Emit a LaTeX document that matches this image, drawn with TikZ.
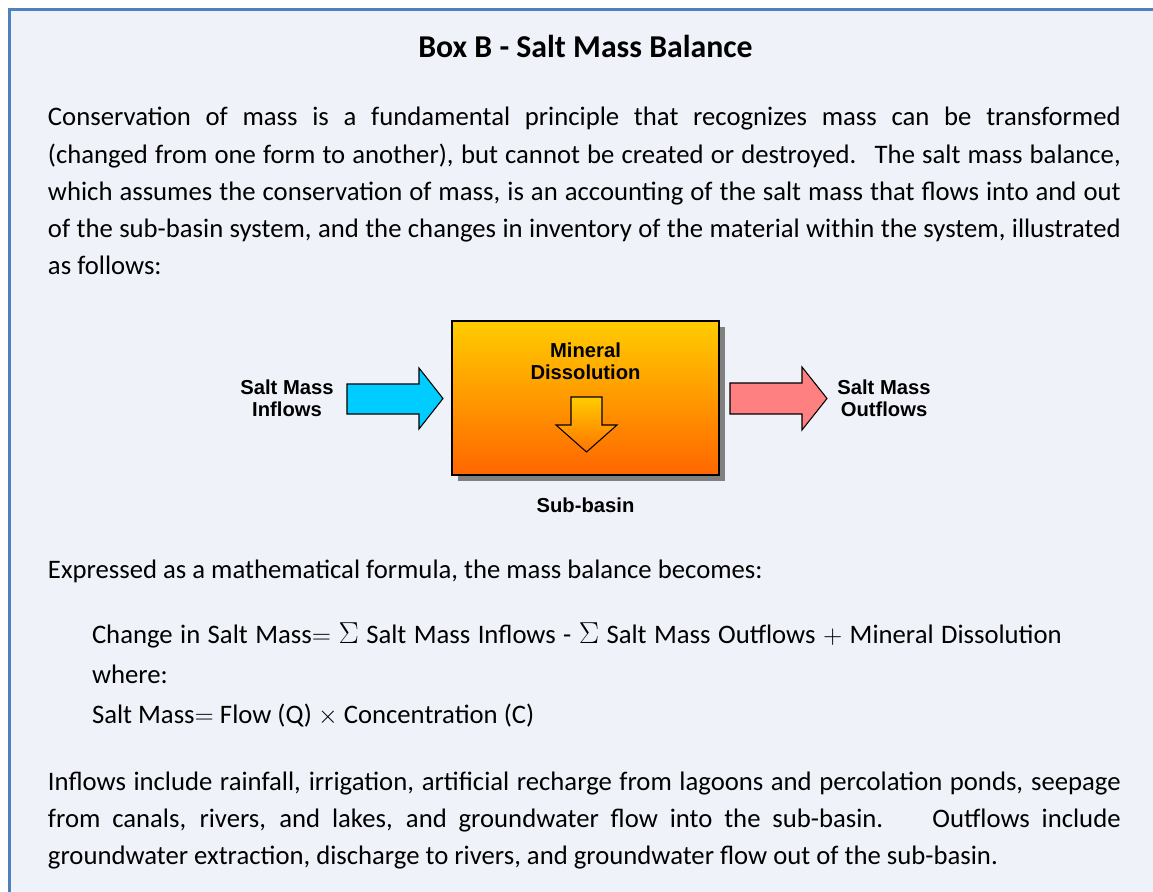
\documentclass[tikz,border=0pt]{standalone}
\usepackage{fontspec}
\setmainfont{Carlito}
\newfontfamily\arialfont{Liberation Sans}
\usetikzlibrary{shadows,positioning}
\definecolor{boxblue}{HTML}{4F81BD}
\definecolor{paper}{HTML}{EFF3F9}
\definecolor{inblue}{HTML}{00CCFF}
\definecolor{outred}{HTML}{FF8080}
\definecolor{basintop}{HTML}{FFCC00}
\definecolor{basinbot}{HTML}{FF6600}
\newlength{\linew}\setlength{\linew}{21.46cm}
\newcommand{\bigsig}{{\fontsize{19pt}{19pt}\selectfont$\Sigma$}}

\begin{document}
\begin{tikzpicture}[x=0.02cm,y=0.02cm,every node/.append style={inner sep=0pt,outer sep=0pt}]
    \tikzstyle{body}=[anchor=base west, font=\fontsize{15.2pt}{18pt}\selectfont]
    \tikzstyle{lbl}=[align=center, font=\arialfont\bfseries\fontsize{11.5pt}{12.3pt}\selectfont]
    \tikzstyle{blockarrow}=[draw=black, line width=0.6pt, line join=miter]
    \tikzstyle{basin}=[draw=black, line width=0.8pt, minimum width=5.34cm, minimum height=3.08cm,
        top color=basintop, bottom color=basinbot,
        drop shadow={shadow xshift=0.12cm, shadow yshift=-0.12cm, fill=black!50, opacity=1}]
    \fill[white] (0,0) rectangle (1153,-892);
    \useasboundingbox (0,0) rectangle (1153,-892);
    \draw[draw=boxblue, fill=paper, line width=1.4pt] (9.5,-9.5) rectangle (1175,-915);

    \node[anchor=base, font=\bfseries\fontsize{18.1pt}{22pt}\selectfont] (title) at (585.5,-58) {Box B - Salt Mass Balance};

    % first paragraph, justified lines
    \foreach \n/\y/\txt in {1/126/{Conservation of mass is a fundamental principle that recognizes mass can be transformed},
                            2/163/{(changed from one form to another), but cannot be created or destroyed.~ The salt mass balance,},
                            3/200/{which assumes the conservation of mass, is an accounting of the salt mass that flows into and out},
                            4/237/{of the sub-basin system, and the changes in inventory of the material within the system, illustrated}} {
        \node[body] (p\n) at (48,-\y) {\makebox[\linew][s]{\txt}};
    }
    \node[body] (p5) at (48,-274) {as follows:};

    % diagram
    \node[basin] (basin) at (585.5,-398) {};
    \node[lbl, below=0.44cm of basin.north] (mineral) {Mineral\\Dissolution};
    \node[lbl, below=0.46cm of basin] (sub) {Sub-basin};
    \node[lbl] (inlbl) at (287,-398) {Salt Mass\\Inflows};
    \node[lbl] (outlbl) at (884,-398) {Salt Mass\\Outflows};
    \draw[blockarrow, fill=inblue] (347,-384) -- (419,-384) -- (419,-368) -- (443,-398.5) -- (419,-429) -- (419,-414) -- (347,-414) -- cycle;
    \draw[blockarrow, fill=outred] (730,-383) -- (802,-383) -- (802,-367) -- (827,-398.5) -- (802,-430) -- (802,-414) -- (730,-414) -- cycle;
    \draw[blockarrow, top color=basintop, bottom color=orange!90!red] (571,-397) -- (602,-397) -- (602,-425) -- (617,-425) -- (586.5,-452) -- (556,-425) -- (571,-425) -- cycle;

    \node[body] (expr) at (48,-578) {Expressed as a mathematical formula, the mass balance becomes:};

    % formula
    \node[body] (eq1) at (92,-643) {\makebox[19.4cm][s]{Change in Salt Mass$=$ \bigsig{} Salt Mass Inflows - \bigsig{} Salt Mass Outflows $+$ Mineral Dissolution}};
    \node[body] (eq2) at (92,-683) {where:};
    \node[body] (eq3) at (92,-723) {Salt Mass$=$ Flow (Q) $\times$ Concentration (C)};

    % last paragraph
    \foreach \n/\y/\txt in {1/790/{Inflows include rainfall, irrigation, artificial recharge from lagoons and percolation ponds, seepage},
                            2/827/{from canals, rivers, and lakes, and groundwater flow into the sub-basin.~~ Outflows include}} {
        \node[body] (q\n) at (48,-\y) {\makebox[\linew][s]{\txt}};
    }
    \node[body] (q3) at (48,-864) {groundwater extraction, discharge to rivers, and groundwater flow out of the sub-basin.};
\end{tikzpicture}
\end{document}
